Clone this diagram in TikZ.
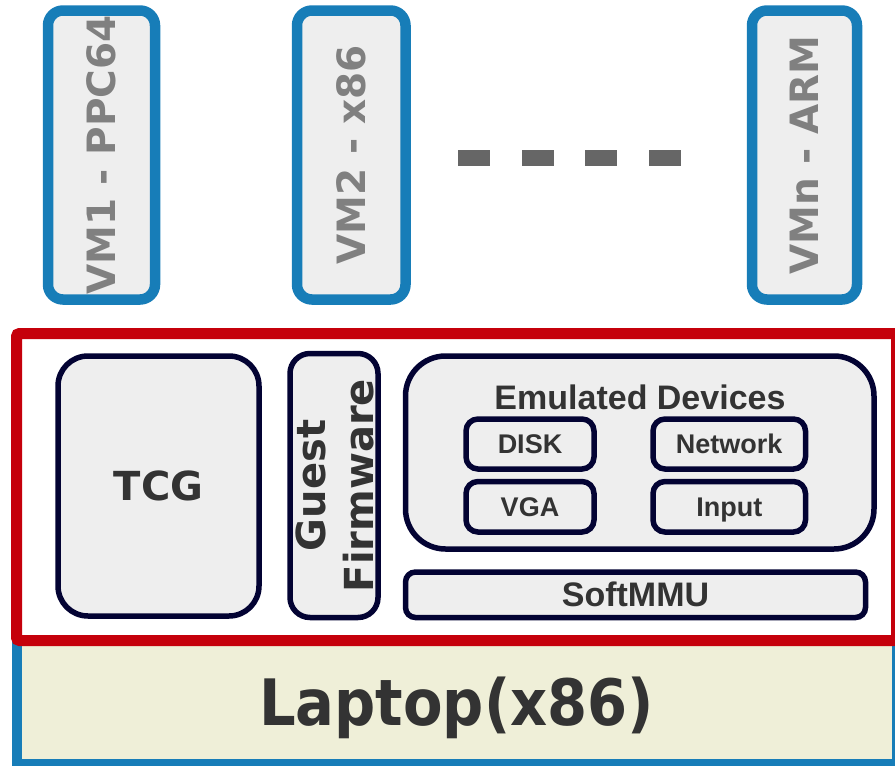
\documentclass[tikz,border=0pt]{standalone}
\usepackage{fontspec}
\newfontfamily\dvs{DejaVu Sans}
\newfontfamily\dvc{DejaVu Sans Condensed}
\newfontfamily\lib{Liberation Sans}
\definecolor{vmblue}{RGB}{23,125,184}
\definecolor{hostred}{RGB}{197,0,11}
\definecolor{navy}{RGB}{3,3,51}
\definecolor{boxfill}{RGB}{238,238,238}
\definecolor{beige}{RGB}{239,239,216}
\definecolor{vmtext}{RGB}{128,128,128}
\definecolor{darktext}{RGB}{51,51,51}
\definecolor{dashgray}{RGB}{102,102,102}
\tikzset{
  vmbox/.style={draw=vmblue, line width=10.5pt, fill=boxfill, rounded corners=15pt,
    rectangle, inner sep=0pt, outer sep=0pt},
  vmlabel/.style={rotate=90, text=vmtext, font=\dvs\bfseries\fontsize{39}{44}\selectfont,
    inner sep=0pt, text height=28.4pt, text depth=0pt},
  inbox/.style={draw=navy, line width=5.5pt, fill=boxfill, rectangle, inner sep=0pt, outer sep=0pt},
  dvlabel/.style={text=darktext, font=\dvs\bfseries\fontsize{40}{48}\selectfont, inner sep=0pt},
  devlabel/.style={text=darktext, font=\lib\bfseries\fontsize{27}{30}\selectfont,
    inner sep=0pt, text height=19.3pt, text depth=0pt},
}
\begin{document}
\begin{tikzpicture}[x=1pt, y=-1pt]
\useasboundingbox (0,0) rectangle (895,766);
\clip (0,0) rectangle (895,766);
% VMs
\node[vmbox, minimum width=107pt, minimum height=289pt] (vm1) at (101.5,155) {};
\node[vmlabel] (vm1t) at (vm1.center) {VM1 - PPC64};
\node[vmbox, minimum width=108.5pt, minimum height=289pt] (vm2) at (351.25,155) {};
\node[vmlabel] (vm2t) at (vm2.center) {VM2 - x86};
\node[vmbox, minimum width=105pt, minimum height=289pt] (vmn) at (804.5,155) {};
\node[vmlabel] (vmnt) at (vmn.center) {VMn - ARM};
% dots
\foreach \x in {458,521.5,585,648.5}
  \fill[dashgray] (\x,150) rectangle ++(32,16);
% laptop
\draw[vmblue, line width=10pt, fill=beige] (16.5,560) rectangle (896.5,764);
% host (red)
\draw[hostred, line width=11pt, fill=white, rounded corners=3pt] (16.5,333.5) rectangle (896.5,640.5);
\node[text=darktext, font=\dvc\bfseries\fontsize{64}{70}\selectfont, inner sep=0pt, anchor=base]
  (laptop) at (456.5,725.5) {Laptop(x86)};
% TCG
\node[inbox, rounded corners=30pt, minimum width=201pt, minimum height=260pt] (tcg) at (158.5,486) {};
\node[dvlabel, text height=29pt, text depth=0pt] (tcgt) at (tcg.center) {TCG};
% Guest firmware
\node[inbox, rounded corners=20pt, minimum width=88pt, minimum height=264pt] (fw) at (334,485.5) {};
\node[dvlabel, rotate=90, align=center, font=\dvs\bfseries\fontsize{40}{48}\selectfont] (fwt) at (335,485.5) {Guest\\Firmware};
% Emulated devices
\node[inbox, rounded corners=40pt, minimum width=468.5pt, minimum height=193pt] (emu) at (639.75,452.5) {};
\node[text=darktext, font=\lib\bfseries\fontsize{34}{40}\selectfont, inner sep=0pt, anchor=base]
  (emut) at (640,409.3) {Emulated Devices};
\node[inbox, rounded corners=12pt, minimum width=128pt, minimum height=50pt] (disk) at (530,444) {};
\node[devlabel] at (disk.center) {DISK};
\node[inbox, rounded corners=12pt, minimum width=152.5pt, minimum height=50pt] (net) at (729.25,444) {};
\node[devlabel] at (net.center) {Network};
\node[inbox, rounded corners=12pt, minimum width=128pt, minimum height=50.5pt] (vga) at (530,506.75) {};
\node[devlabel] at (vga.center) {VGA};
\node[inbox, rounded corners=12pt, minimum width=152.5pt, minimum height=50.5pt] (inp) at (729.25,506.75) {};
\node[devlabel] at (inp.center) {Input};
% SoftMMU
\node[inbox, rounded corners=10pt, minimum width=460pt, minimum height=45.5pt] (mmu) at (635.5,594.75) {};
\node[text=darktext, font=\lib\bfseries\fontsize{34}{40}\selectfont, inner sep=0pt,
  text height=24.3pt, text depth=0pt] (mmut) at (mmu.center) {SoftMMU};
\end{tikzpicture}
\end{document}
